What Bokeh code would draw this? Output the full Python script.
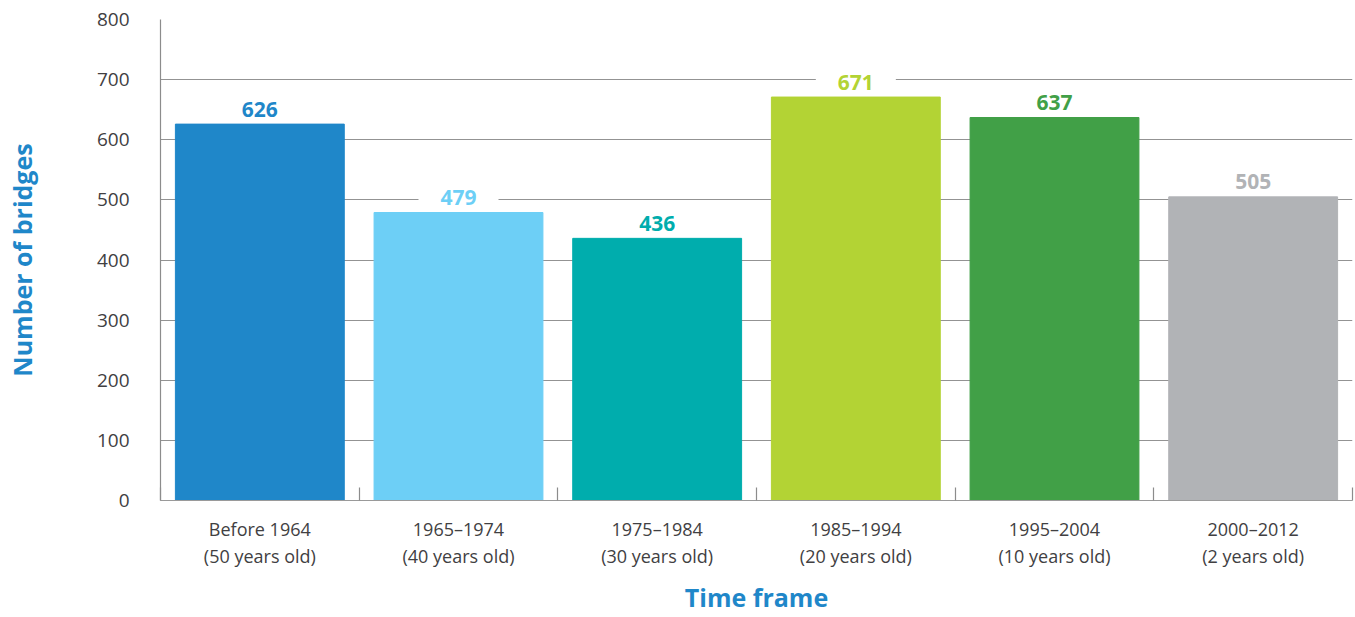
from bokeh.plotting import figure
from bokeh.models import Range1d, FixedTicker, LinearAxis, ColumnDataSource
from bokeh.core.properties import value
from bokeh.embed import file_html
from bokeh.resources import INLINE

periods = ["Before 1964", "1965–1974", "1975–1984", "1985–1994", "1995–2004", "2000–2012"]
ages = ["(50 years old)", "(40 years old)", "(30 years old)", "(20 years old)", "(10 years old)", "(2 years old)"]
bridges = [626, 479, 436, 671, 637, 505]
colors = ["#1f87c9", "#6dcff6", "#00adad", "#b3d334", "#41a047", "#b1b3b6"]
y_ticks = [0, 100, 200, 300, 400, 500, 600, 700, 800]

FONT = "Open Sans"
TXT = "#414042"
BLUE = "#1f87c9"

n = len(periods)
xs = [i + 0.5 for i in range(n)]
bounds = [float(i) for i in range(n + 1)]
src = ColumnDataSource(dict(x=xs, top=bridges, color=colors, label=[str(v) for v in bridges]))

p = figure(width=1354, height=616, x_range=Range1d(0, n), y_range=Range1d(0, 800),
           output_backend="svg", toolbar_location=None,
           min_border_left=160, min_border_right=2, min_border_top=19, min_border_bottom=115)
p.outline_line_color = None
p.background_fill_color = "white"
p.border_fill_color = "white"

p.xgrid.visible = False
p.ygrid.ticker = FixedTicker(ticks=y_ticks)
p.ygrid.grid_line_color = "#939393"
p.ygrid.grid_line_width = 1.2

yax = p.yaxis[0]
yax.ticker = FixedTicker(ticks=y_ticks)
yax.axis_line_color = "#8c8c8c"
yax.axis_line_width = 1.2
yax.major_tick_in = 0
yax.major_tick_out = 0
yax.minor_tick_line_color = None
yax.major_label_standoff = 31
yax.major_label_text_font = FONT
yax.major_label_text_font_size = "19px"
yax.major_label_text_color = TXT
yax.axis_label = "Number of bridges"
yax.axis_label_text_font = FONT
yax.axis_label_text_font_style = "bold"
yax.axis_label_text_font_size = "25px"
yax.axis_label_text_color = BLUE
yax.axis_label_standoff = 55

xax = p.xaxis[0]
xax.ticker = FixedTicker(ticks=xs, minor_ticks=bounds)
xax.major_label_overrides = {x: lab for x, lab in zip(xs, periods)}
xax.axis_line_color = "#9a9a9a"
xax.axis_line_width = 1.2
xax.major_tick_in = 0
xax.major_tick_out = 0
xax.minor_tick_in = 13
xax.minor_tick_out = 0
xax.minor_tick_line_color = "#8c8c8c"
xax.minor_tick_line_width = 1.2
xax.major_label_standoff = 16
xax.major_label_text_font = FONT
xax.major_label_text_font_size = "18px"
xax.major_label_text_color = TXT

xax2 = LinearAxis(ticker=FixedTicker(ticks=xs))
xax2.major_label_overrides = {x: lab for x, lab in zip(xs, ages)}
xax2.axis_line_color = None
xax2.major_tick_line_color = None
xax2.major_tick_in = 0
xax2.major_tick_out = 0
xax2.minor_tick_line_color = None
xax2.major_label_standoff = 0
xax2.major_label_text_font = FONT
xax2.major_label_text_font_size = "18px"
xax2.major_label_text_color = TXT
xax2.axis_label = "Time frame"
xax2.axis_label_text_font = FONT
xax2.axis_label_text_font_style = "bold"
xax2.axis_label_text_font_size = "25px"
xax2.axis_label_text_color = BLUE
xax2.axis_label_standoff = 9
p.add_layout(xax2, "below")

p.vbar(x="x", top="top", bottom=0, width=0.85, color="color", source=src)
p.text(x="x", y="top", text="label", source=src, text_color="color",
       text_font=value(FONT), text_font_style="bold", text_font_size="21px",
       text_align="center", text_baseline="middle", y_offset=-15,
       background_fill_color="white", padding=(22, 1))

open("out.html", "w").write(file_html(p, INLINE))
